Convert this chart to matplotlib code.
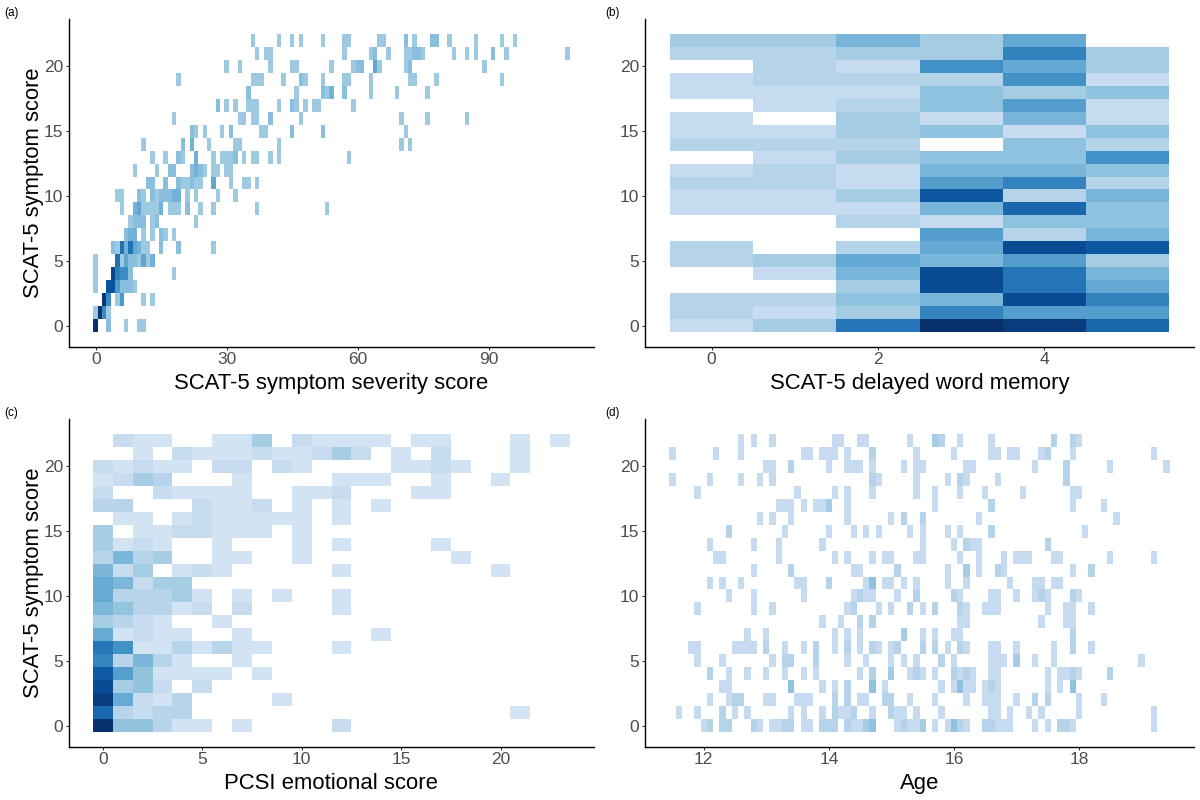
import numpy as np
from matplotlib import pyplot as plt

plt.rcParams["font.family"] = ["Liberation Sans", "DejaVu Sans"]

# Each row list is one y score (0 to 22), each dict is {x bin: count}.
SEVERITY_ROWS = [
    {0: 13, 3: 2, 7: 1, 10: 1, 11: 1},
    {0: 1, 1: 12, 2: 6, 3: 1},
    {2: 12, 3: 6, 5: 1, 6: 5, 11: 1, 13: 1},
    {0: 1, 3: 10, 4: 10, 5: 5, 6: 2, 7: 2, 8: 2, 9: 1},
    {0: 1, 4: 11, 5: 7, 6: 6, 7: 6, 8: 2, 18: 1},
    {0: 1, 5: 8, 6: 1, 7: 4, 8: 2, 9: 2, 10: 1, 11: 4, 12: 1, 13: 3},
    {4: 2, 5: 1, 6: 8, 7: 3, 8: 8, 9: 4, 10: 3, 11: 1, 12: 1, 15: 2, 19: 2, 27: 1},
    {7: 2, 8: 3, 9: 3, 11: 1, 13: 1, 15: 2, 16: 1, 18: 1},
    {8: 1, 9: 2, 10: 2, 11: 2, 13: 1, 14: 2, 23: 1},
    {6: 1, 9: 3, 10: 4, 11: 1, 12: 1, 13: 1, 14: 1, 15: 3, 17: 1, 18: 1, 19: 1, 21: 2,
     24: 1, 27: 1, 37: 1, 53: 1},
    {5: 1, 6: 1, 10: 2, 11: 1, 13: 2, 14: 1, 15: 2, 16: 2, 17: 2, 18: 3, 19: 3, 21: 1,
     23: 1, 28: 1, 32: 1},
    {12: 2, 13: 2, 16: 2, 19: 2, 20: 1, 21: 1, 22: 2, 23: 1, 24: 1, 27: 4, 31: 1, 34: 1,
     35: 1, 37: 1},
    {9: 1, 14: 1, 17: 2, 18: 2, 22: 2, 23: 3, 24: 2, 25: 1, 27: 1, 28: 1, 30: 1, 31: 1},
    {13: 1, 16: 1, 19: 2, 20: 1, 23: 3, 27: 1, 29: 1, 30: 1, 31: 1, 32: 2, 34: 1, 36: 1,
     37: 1, 40: 1, 42: 1, 58: 1},
    {11: 1, 20: 2, 22: 3, 26: 1, 32: 1, 33: 1, 42: 1, 70: 1, 72: 1},
    {22: 2, 23: 1, 25: 1, 29: 1, 31: 2, 38: 1, 39: 1, 45: 2, 52: 2, 71: 1},
    {18: 1, 33: 1, 34: 1, 36: 1, 37: 1, 40: 2, 47: 1, 70: 1, 76: 1, 85: 1},
    {28: 2, 30: 1, 32: 1, 35: 1, 36: 1, 37: 1, 42: 1, 45: 2, 46: 1, 48: 1, 50: 1, 51: 1, 59: 1},
    {35: 2, 46: 1, 52: 2, 53: 1, 54: 3, 57: 2, 63: 1, 69: 1, 76: 1},
    {19: 1, 36: 1, 37: 1, 38: 1, 43: 1, 47: 2, 48: 1, 52: 1, 57: 1, 58: 1, 63: 1, 72: 1,
     73: 1, 78: 1, 93: 1},
    {30: 1, 33: 1, 40: 1, 45: 1, 46: 1, 54: 1, 59: 1, 60: 2, 61: 2, 64: 4, 65: 1, 71: 1,
     72: 2, 89: 1},
    {37: 1, 39: 1, 40: 1, 57: 1, 63: 1, 64: 2, 67: 1, 71: 1, 72: 1, 73: 2, 74: 2, 75: 1,
     82: 1, 85: 1, 87: 1, 91: 2, 94: 1, 108: 1},
    {36: 1, 42: 1, 45: 1, 47: 1, 52: 1, 57: 1, 58: 1, 65: 1, 66: 1, 71: 2, 73: 1, 77: 2,
     78: 2, 81: 1, 87: 1, 93: 1, 96: 1},
]

# One row per symptom score, one column per delayed word memory score (0 to 5).
MEMORY_COUNTS = [
    [1, 3, 10, 15, 14, 11],
    [2, 1, 3, 9, 7, 7],
    [2, 2, 4, 5, 13, 9],
    [0, 0, 3, 13, 10, 6],
    [0, 1, 5, 13, 10, 5],
    [2, 3, 6, 5, 7, 3],
    [2, 0, 2, 6, 13, 12],
    [0, 0, 0, 7, 2, 5],
    [0, 0, 2, 1, 4, 4],
    [1, 1, 1, 5, 11, 4],
    [1, 1, 3, 12, 2, 5],
    [2, 2, 1, 7, 9, 2],
    [1, 2, 1, 5, 5, 4],
    [0, 1, 3, 4, 4, 8],
    [2, 2, 2, 0, 4, 2],
    [1, 1, 3, 4, 1, 4],
    [1, 0, 3, 1, 5, 1],
    [0, 1, 2, 4, 7, 1],
    [1, 1, 1, 4, 3, 4],
    [1, 2, 2, 2, 8, 1],
    [0, 2, 1, 8, 6, 3],
    [2, 2, 3, 3, 9, 3],
    [3, 3, 5, 3, 6, 0],
]

EMOTIONAL_ROWS = [
    {0: 16, 1: 5, 2: 5, 3: 3, 4: 1, 5: 1, 7: 1, 12: 2},
    {0: 12, 1: 3, 2: 2, 3: 3, 4: 3, 21: 1},
    {0: 15, 1: 7, 2: 2, 3: 1, 4: 3, 9: 1},
    {0: 14, 1: 4, 2: 5, 3: 2, 5: 2},
    {0: 13, 1: 8, 2: 5, 3: 1, 4: 1, 5: 1, 6: 1, 8: 1},
    {0: 10, 1: 3, 2: 6, 3: 3, 4: 1, 7: 1},
    {0: 11, 1: 9, 2: 1, 3: 1, 4: 3, 5: 1, 6: 3, 7: 1, 8: 1, 12: 1},
    {0: 7, 1: 1, 2: 2, 3: 1, 4: 1, 7: 1, 14: 1},
    {0: 4, 1: 3, 2: 2, 3: 1, 6: 1},
    {0: 6, 1: 5, 2: 3, 3: 3, 4: 1, 5: 2, 7: 2, 12: 1},
    {0: 7, 1: 3, 2: 3, 3: 3, 4: 4, 5: 1, 7: 1, 9: 1, 12: 1},
    {0: 7, 1: 6, 2: 2, 3: 4, 4: 4},
    {0: 6, 1: 2, 2: 4, 4: 1, 5: 2, 6: 1, 12: 1, 20: 1},
    {0: 3, 1: 6, 2: 3, 3: 4, 6: 1, 7: 1, 10: 1, 18: 1},
    {0: 4, 1: 1, 2: 2, 3: 1, 6: 1, 10: 1, 12: 1, 17: 1},
    {0: 4, 2: 1, 3: 1, 4: 2, 5: 2, 6: 1, 7: 1, 8: 1, 10: 1},
    {1: 1, 2: 1, 4: 1, 5: 2, 6: 1, 7: 1, 8: 1, 9: 1, 10: 1, 12: 1},
    {0: 3, 1: 3, 5: 2, 6: 1, 7: 1, 8: 2, 10: 1, 12: 1, 14: 1},
    {0: 2, 3: 2, 4: 1, 5: 1, 6: 1, 7: 1, 10: 1, 11: 1, 12: 2, 16: 1, 17: 1},
    {0: 1, 1: 2, 2: 4, 3: 3, 7: 1, 12: 1, 13: 1, 14: 1, 17: 1, 20: 1},
    {0: 2, 1: 1, 2: 2, 3: 1, 4: 1, 6: 2, 7: 2, 9: 2, 10: 1, 15: 1, 16: 1, 17: 2, 18: 1, 21: 1},
    {2: 1, 4: 2, 5: 1, 6: 1, 7: 1, 8: 2, 9: 1, 10: 1, 11: 2, 12: 4, 13: 2, 15: 1, 17: 2, 21: 1},
    {1: 2, 2: 1, 3: 1, 6: 1, 7: 1, 8: 4, 10: 2, 11: 1, 12: 1, 13: 1, 14: 1, 16: 1, 17: 1,
     21: 1, 23: 1},
]

# x bin k here stands for age 11.5 + 0.1 * k
AGE_ROWS = [
    {5: 1, 6: 2, 8: 2, 9: 2, 13: 2, 14: 1, 16: 1, 17: 1, 18: 2, 19: 2, 21: 1, 22: 1, 24: 2,
     25: 2, 26: 2, 28: 2, 29: 1, 30: 1, 31: 3, 32: 4, 36: 1, 37: 2, 38: 1, 39: 1, 40: 3,
     42: 1, 44: 1, 45: 4, 46: 2, 47: 1, 50: 2, 51: 2, 52: 1, 53: 1, 54: 1, 58: 1, 60: 1,
     62: 2, 63: 2, 64: 1, 77: 1},
    {1: 1, 4: 1, 8: 2, 10: 1, 12: 1, 19: 1, 21: 1, 24: 1, 26: 2, 27: 1, 28: 1, 29: 2, 32: 1,
     35: 2, 36: 1, 37: 1, 39: 1, 43: 1, 51: 1, 52: 1, 54: 1, 57: 1, 59: 1, 65: 1, 77: 1},
    {6: 1, 9: 1, 10: 2, 11: 2, 15: 1, 16: 1, 20: 1, 21: 1, 22: 1, 26: 2, 28: 2, 30: 1, 31: 1,
     34: 2, 35: 2, 38: 1, 42: 1, 47: 1, 50: 1, 51: 1, 52: 1, 55: 1, 58: 2, 60: 2, 65: 1, 69: 1},
    {8: 1, 9: 1, 19: 4, 24: 1, 26: 1, 28: 2, 32: 4, 34: 1, 43: 1, 45: 1, 46: 4, 47: 1, 48: 1,
     50: 1, 51: 2, 52: 1, 60: 1, 62: 1, 64: 4},
    {6: 2, 9: 1, 12: 1, 15: 1, 18: 1, 21: 1, 23: 1, 30: 1, 32: 2, 35: 3, 38: 1, 39: 2, 40: 1,
     42: 1, 45: 2, 46: 1, 47: 2, 48: 1, 51: 1, 52: 1, 60: 1, 62: 1, 63: 1, 64: 2, 65: 1, 70: 2},
    {4: 1, 8: 1, 16: 1, 18: 2, 19: 2, 23: 2, 28: 1, 31: 1, 35: 1, 37: 1, 39: 1, 43: 2, 45: 1,
     51: 1, 52: 1, 53: 1, 55: 3, 58: 1, 61: 1, 75: 1},
    {3: 1, 4: 1, 10: 1, 11: 1, 12: 1, 13: 1, 15: 2, 18: 1, 21: 1, 23: 2, 26: 1, 28: 2, 30: 1,
     32: 2, 33: 1, 35: 1, 36: 2, 40: 2, 42: 2, 44: 1, 46: 2, 47: 1, 51: 1, 52: 1, 55: 1, 61: 1,
     64: 2, 67: 1},
    {12: 1, 15: 1, 26: 1, 28: 1, 30: 1, 37: 3, 40: 1, 42: 1, 45: 1, 46: 1, 64: 2},
    {24: 1, 27: 1, 30: 2, 32: 2, 46: 1, 47: 1, 59: 1, 63: 1, 64: 1},
    {4: 1, 13: 1, 16: 1, 28: 1, 29: 2, 33: 1, 35: 1, 38: 2, 40: 1, 42: 2, 46: 2, 47: 1, 50: 1,
     51: 1, 52: 1, 60: 1, 63: 1, 64: 1, 67: 1},
    {9: 1, 13: 1, 21: 1, 29: 1, 30: 2, 31: 1, 32: 1, 36: 1, 39: 2, 45: 2, 46: 1, 51: 1, 52: 1,
     55: 1, 58: 1, 59: 2, 60: 1, 64: 2, 65: 1},
    {6: 1, 8: 1, 11: 1, 20: 1, 21: 1, 25: 2, 31: 1, 32: 4, 34: 1, 35: 1, 37: 1, 39: 1, 44: 1,
     47: 1, 54: 1, 58: 1, 59: 1, 61: 1, 62: 1},
    {13: 1, 19: 2, 29: 1, 30: 1, 36: 2, 44: 1, 47: 3, 49: 1, 52: 2, 53: 1, 64: 1, 67: 2},
    {7: 1, 8: 1, 17: 1, 26: 1, 28: 1, 32: 1, 34: 1, 35: 1, 39: 1, 40: 1, 46: 1, 49: 1, 53: 1,
     55: 1, 56: 1, 57: 1, 61: 1, 62: 1, 70: 1, 77: 1},
    {6: 1, 13: 1, 17: 1, 24: 1, 40: 1, 45: 1, 47: 2, 48: 1, 49: 1, 60: 2},
    {9: 2, 18: 1, 25: 1, 29: 1, 31: 1, 33: 1, 38: 1, 40: 1, 44: 1, 46: 1, 51: 2, 66: 1},
    {14: 1, 16: 1, 19: 1, 28: 1, 35: 1, 37: 2, 40: 2, 49: 1, 71: 1},
    {17: 1, 18: 1, 19: 1, 21: 1, 23: 1, 24: 1, 25: 3, 28: 1, 42: 1, 51: 2, 64: 1, 69: 1},
    {4: 1, 20: 1, 26: 1, 28: 1, 32: 1, 39: 1, 42: 1, 46: 1, 50: 1, 56: 1, 64: 1, 65: 1},
    {0: 1, 6: 1, 11: 1, 14: 1, 16: 1, 32: 2, 33: 1, 39: 1, 44: 1, 46: 2, 47: 1, 52: 1, 63: 2},
    {15: 1, 16: 1, 19: 2, 25: 1, 28: 1, 29: 1, 30: 1, 32: 1, 37: 1, 39: 1, 40: 1, 47: 1, 48: 1,
     58: 1, 63: 2, 70: 1, 79: 1},
    {0: 1, 7: 1, 11: 1, 21: 1, 22: 1, 24: 1, 25: 1, 26: 1, 28: 1, 32: 2, 39: 1, 45: 1, 51: 1,
     52: 1, 54: 1, 55: 1, 59: 1, 60: 2, 64: 1, 77: 1},
    {11: 1, 13: 1, 16: 1, 26: 1, 27: 1, 30: 1, 31: 1, 38: 1, 42: 3, 43: 2, 46: 1, 51: 1, 61: 2,
     64: 2, 65: 1},
]

X_LABELS = ["SCAT-5 symptom severity score", "SCAT-5 delayed word memory",
            "PCSI emotional score", "Age"]
Y_LABEL = "SCAT-5 symptom score"
TAGS = ["(a)", "(b)", "(c)", "(d)"]
Y_TICKS = [0, 5, 10, 15, 20]

INK = {"tick": "#4d4d4d", "axis": "#000000"}
SHADE_STEP = 0.054  # Blues colormap distance between two neighbouring counts
W, H = 1200, 800


def rows_to_grid(rows, n_bins):
    grid = np.zeros((len(rows), n_bins))
    for y, row in enumerate(rows):
        for x, n in row.items():
            grid[y, x] = n
    return grid


def draw_panel(box, grid, x_edges, xlim, xticks, first_shade, xlabel, tag, tag_x, show_ylabel):
    left, right, top, bottom = box
    ax = fig.add_axes([left / W, 1 - bottom / H, (right - left) / W, (bottom - top) / H])
    span = 1 / SHADE_STEP
    vmin = 1 - first_shade * span
    y_edges = np.arange(-0.5, 23)
    ax.pcolormesh(x_edges, y_edges, np.ma.masked_equal(grid, 0), cmap="Blues",
                  vmin=vmin, vmax=vmin + span, antialiased=False, linewidth=0)
    ax.set_xlim(*xlim)
    ax.set_ylim(-1.65, 23.65)
    ax.set_xticks(xticks)
    ax.set_yticks(Y_TICKS)
    for side in ("top", "right"):
        ax.spines[side].set_visible(False)
    for side in ("left", "bottom"):
        ax.spines[side].set_linewidth(1.0)
        ax.spines[side].set_color(INK["axis"])
    ax.tick_params(length=2.4, width=0.8, color="#333333", labelcolor=INK["tick"],
                   labelsize=12.5, pad=2)
    ax.tick_params(axis="x", pad=1.5)
    ax.set_xlabel(xlabel, fontsize=15.9, color="black", labelpad=4)
    if show_ylabel:
        ax.set_ylabel(Y_LABEL, fontsize=15.8, color="black")
        ax.yaxis.set_label_coords((44 - left) / (right - left), 0.5)
    fig.text(tag_x / W, 1 - (top - 6) / H, tag, fontsize=8.5, color="black", va="center")


fig = plt.figure(figsize=(W / 100, H / 100), dpi=100, facecolor="white")

draw_panel((69, 594, 19, 347), rows_to_grid(SEVERITY_ROWS, 109), np.arange(-0.6, 109),
           (-6.18, 113.96), [0, 30, 60, 90], 0.375, X_LABELS[0], TAGS[0], 4, True)
draw_panel((645, 1194, 19, 347), np.array(MEMORY_COUNTS), np.arange(-0.5, 6),
           (-0.8, 5.8), [0, 2, 4], 0.25, X_LABELS[1], TAGS[1], 605, False)
draw_panel((69, 594, 419, 747), rows_to_grid(EMOTIONAL_ROWS, 24), np.arange(-0.5, 24),
           (-1.7, 24.7), [0, 5, 10, 15, 20], 0.19, X_LABELS[2], TAGS[2], 4, True)
draw_panel((645, 1194, 419, 747), rows_to_grid(AGE_ROWS, 80), 11.45 + 0.1 * np.arange(81),
           (11.06, 19.84), [12, 14, 16, 18], 0.25, X_LABELS[3], TAGS[3], 605, False)

fig.savefig("out.png", facecolor="white")
plt.close(fig)
